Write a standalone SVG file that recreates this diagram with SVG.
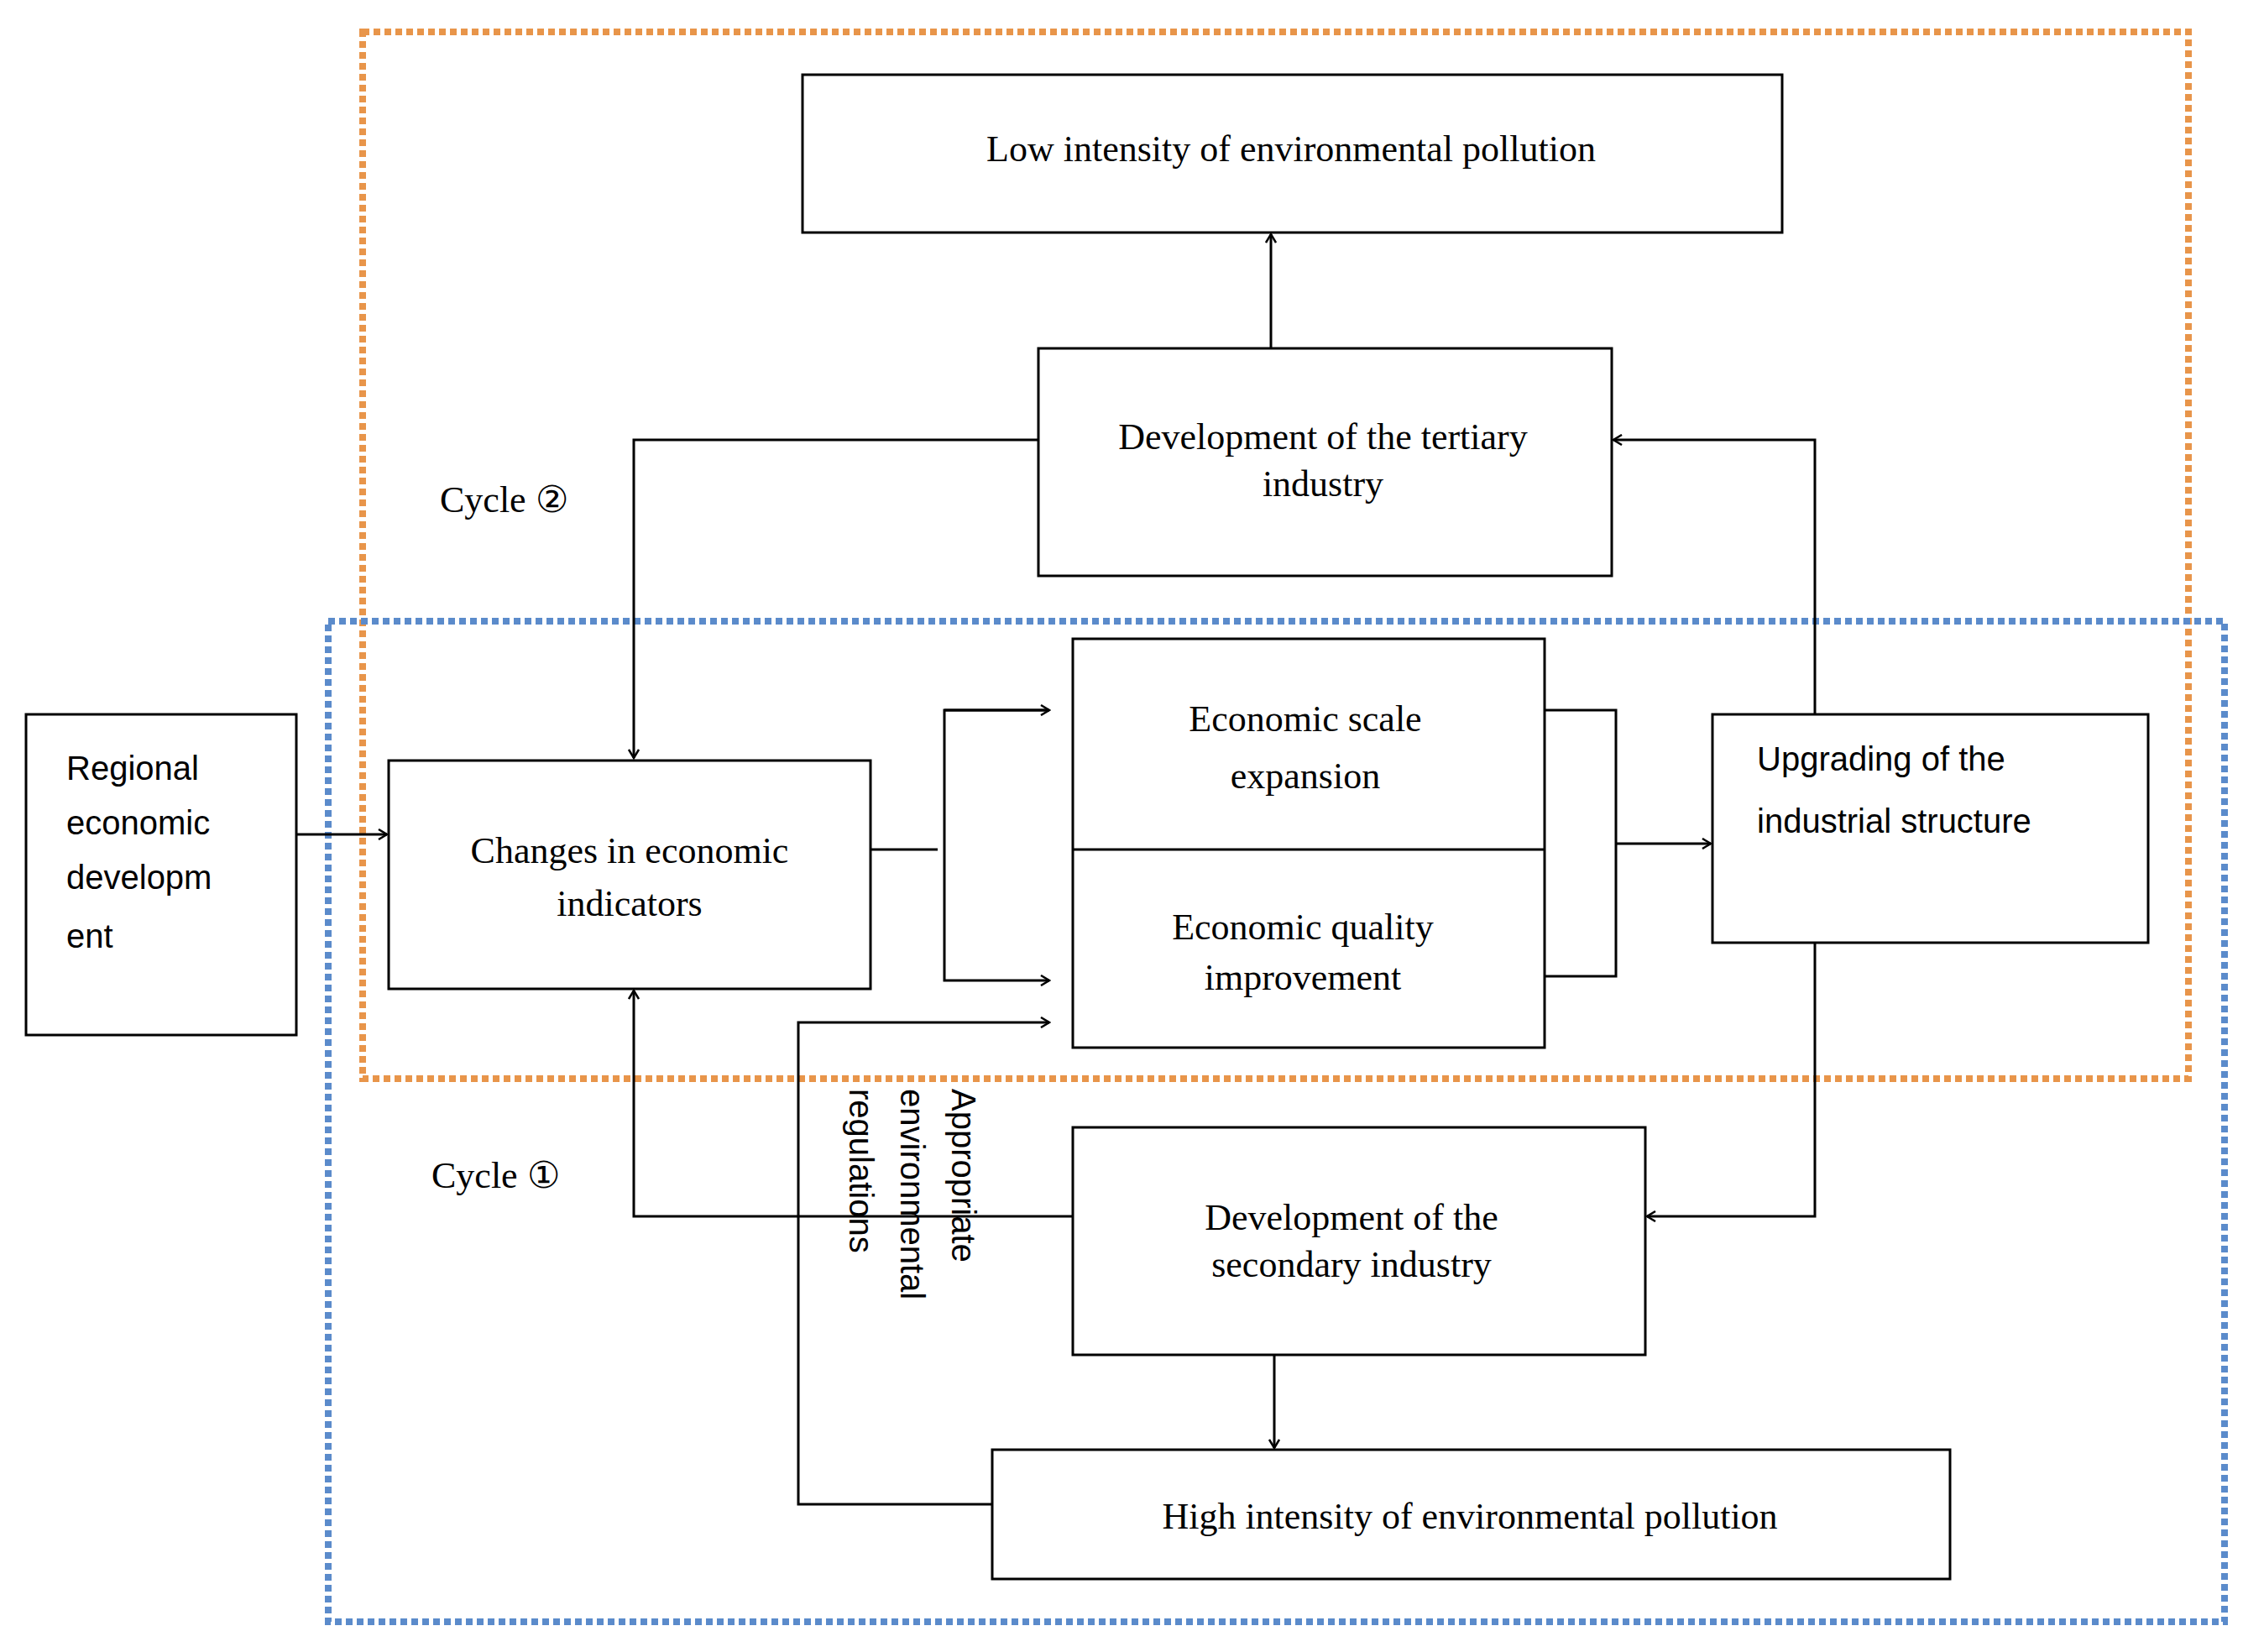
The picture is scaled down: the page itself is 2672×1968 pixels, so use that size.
<svg xmlns="http://www.w3.org/2000/svg" width="2672" height="1968" viewBox="0 0 2672 1968">
<style>
.b{fill:#fff;stroke:#000;stroke-width:3}
.s{font-family:"Liberation Serif",serif;font-size:44px;text-anchor:middle}
.a{font-family:"Liberation Sans",sans-serif;font-size:40px}
.c{fill:none;stroke:#000;stroke-width:3}
</style>
<defs><marker id="m" markerWidth="14" markerHeight="14" refX="12" refY="7" orient="auto" markerUnits="userSpaceOnUse"><path d="M2,1 L12,7 L2,13" fill="none" stroke="#000" stroke-width="2.5"/></marker></defs>
<rect x="432" y="38" width="2175" height="1247" fill="none" stroke="#E8954A" stroke-width="8" stroke-dasharray="8 5"/>
<rect x="391" y="740" width="2259" height="1192" fill="none" stroke="#5B8BCB" stroke-width="8" stroke-dasharray="8 5"/>
<g id="low"><rect class="b" x="956" y="89" width="1167" height="188"/><text class="s" x="1538" y="192">Low intensity of environmental pollution</text></g>
<g id="tertiary"><rect class="b" x="1237" y="415" width="683" height="271"/><text class="s" x="1576" y="535">Development of the tertiary</text><text class="s" x="1576" y="591">industry</text></g>
<g id="regional"><rect class="b" x="31" y="851" width="322" height="382"/><text class="a" x="79" y="929">Regional</text><text class="a" x="79" y="994">economic</text><text class="a" x="79" y="1059">developm</text><text class="a" x="79" y="1129">ent</text></g>
<g id="changes"><rect class="b" x="463" y="906" width="574" height="272"/><text class="s" x="750" y="1028">Changes in economic</text><text class="s" x="750" y="1091">indicators</text></g>
<g id="econ"><rect class="b" x="1278" y="761" width="562" height="487"/><line class="c" x1="1278" y1="1012" x2="1840" y2="1012"/><text class="s" x="1555" y="871">Economic scale</text><text class="s" x="1555" y="939">expansion</text><text class="s" x="1552" y="1119">Economic quality</text><text class="s" x="1552" y="1179">improvement</text></g>
<g id="upgrading"><rect class="b" x="2040" y="851" width="519" height="272"/><text class="a" x="2093" y="918">Upgrading of the</text><text class="a" x="2093" y="992">industrial structure</text></g>
<g id="secondary"><rect class="b" x="1278" y="1343" width="682" height="271"/><text class="s" x="1610" y="1465">Development of the</text><text class="s" x="1610" y="1521">secondary industry</text></g>
<g id="high"><rect class="b" x="1182" y="1727" width="1141" height="154"/><text class="s" x="1751" y="1821">High intensity of environmental pollution</text></g>
<g id="labels">
<text class="s" x="524" y="610" style="text-anchor:start">Cycle ②</text>
<text class="s" x="514" y="1415" style="text-anchor:start">Cycle ①</text>
<g transform="translate(1134,1297) rotate(90)"><text class="a" x="0" y="0">Appropriate</text><text class="a" x="0" y="61">environmental</text><text class="a" x="0" y="122">regulations</text></g>
</g>
<g id="connectors">
<path class="c" d="M1514,415 V279" marker-end="url(#m)"/>
<path class="c" d="M1237,524 H755 V903" marker-end="url(#m)"/>
<path class="c" d="M2162,851 V524 H1922" marker-end="url(#m)"/>
<path class="c" d="M2162,1123 V1449 H1962" marker-end="url(#m)"/>
<path class="c" d="M1278,1449 H755 V1180" marker-end="url(#m)"/>
<path class="c" d="M1518,1614 V1725" marker-end="url(#m)"/>
<path class="c" d="M1182,1792 H951 V1218 H1250" marker-end="url(#m)"/>
<path class="c" d="M353,994 H461" marker-end="url(#m)"/>
<path class="c" d="M1037,1012 H1117"/>
<path class="c" d="M1250,846 H1125 V1168 H1250" marker-end="url(#m)"/>
<path class="c" d="M1125,846 H1250" marker-end="url(#m)"/>
<path class="c" d="M1840,846 H1925 V1163 H1840"/>
<path class="c" d="M1925,1005 H2038" marker-end="url(#m)"/>
</g>
</svg>
